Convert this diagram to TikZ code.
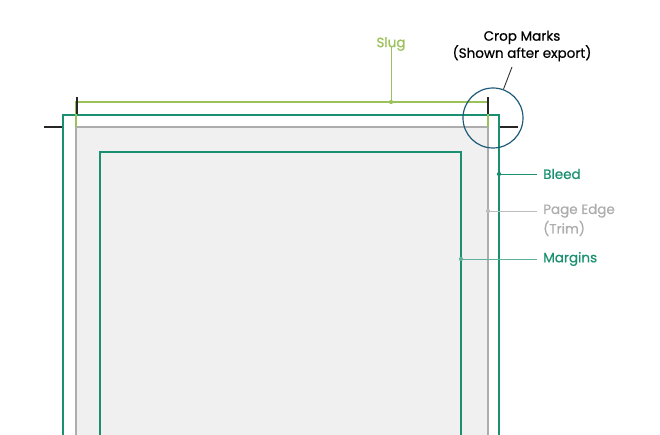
\documentclass[tikz,border=0pt]{standalone}
\usepackage{fontspec}
\setmainfont{Poppins}[UprightFeatures={FakeBold=0.7}]
\usepackage{xcolor}
\usetikzlibrary{positioning}
\definecolor{slugc}{HTML}{9BC15A}
\definecolor{bleedc}{HTML}{1A9070}
\definecolor{trimc}{HTML}{ADADAD}
\definecolor{circc}{HTML}{1F5B7A}
\begin{document}
\begin{tikzpicture}[x=1pt, y=-1pt]
\tikzstyle{lbl} = [anchor=west, font=\fontsize{13.5}{18}\selectfont, align=left, inner sep=0pt]
\tikzstyle{lead} = [line width=0.9pt]
\tikzstyle{crop} = [line width=1.2pt, black!85]
\tikzstyle{dot} = [circle, fill, inner sep=1.5pt]

\useasboundingbox (0,0) rectangle (660,435);

% page boxes
\draw [bleedc, line width=1.2pt] (63,436) -- (63,115) -- (499,115) -- (499,436);
\fill [black!6] (76,127) rectangle (488,436);
\draw [trimc, line width=1.2pt] (76,436) -- (76,127) -- (488,127) -- (488,436);
\draw [bleedc, line width=1.2pt] (100,436) -- (100,152) -- (461,152) -- (461,436);
\draw [slugc, line width=1.2pt] (76,127) -- (76,102) -- (488,102) -- (488,127);

% crop marks
\draw [crop] (77,97) -- (77,114);
\draw [crop] (44,127) -- (62,127);
\draw [crop] (488,97) -- (488,114);
\draw [crop] (500,127) -- (518,127);
\node (ring) [circle, draw=circc, line width=1.2pt, minimum size=60pt, inner sep=0pt] at (493,118) {};

% labels
\node (slug) [lbl, anchor=center, text=slugc] at (391,44) {Slug};
\node (cropm) [lbl, anchor=center, align=center, font=\fontsize{13.5}{14}\selectfont] at (522,46) {Crop Marks\\(Shown after export)};
\node (bleed) [lbl, text=bleedc] at (543,174) {Bleed};
\node (trim) [lbl, text=trimc, font=\fontsize{13.5}{19.5}\selectfont] at (543,220) {Page Edge\\(Trim)};
\node (marg) [lbl, text=bleedc] at (543,259) {Margins};

\coordinate (slugp) at (391,102);
\coordinate (bleedp) at (499,174);
\coordinate (trimp) at (488,211);
\coordinate (margp) at (461,259);

\draw [lead, slugc] (slug.south) ++(0,-4) -- (slugp) node [dot] {};
\draw [lead, black!80] (512,67) -- (ring.70);
\draw [lead, bleedc] (bleedp) node [dot] {} -- (537,174);
\draw [lead, trimc!80] (trimp) node [dot] {} -- (537,211);
\draw [lead, bleedc!70] (margp) node [dot] {} -- (537,259);
\end{tikzpicture}
\end{document}
